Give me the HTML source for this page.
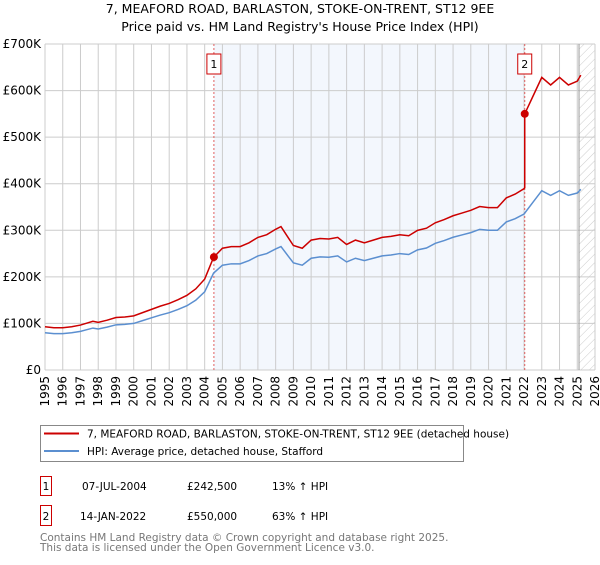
<!DOCTYPE html>
<html><head><meta charset="utf-8"><style>
body{margin:0;background:#fff;font-family:"Liberation Sans","DejaVu Sans",sans-serif;}
svg text{font-family:"DejaVu Sans","Liberation Sans",sans-serif;}
</style></head><body>
<svg id="c" width="600" height="560" xmlns="http://www.w3.org/2000/svg">
<defs><pattern id="hatch" width="6" height="6" patternUnits="userSpaceOnUse" patternTransform="rotate(45)"><line x1="0" y1="0" x2="0" y2="6" stroke="#ccc" stroke-width="1"/></pattern></defs>
<text x="300" y="13" text-anchor="middle" font-size="12.5">7, MEAFORD ROAD, BARLASTON, STOKE-ON-TRENT, ST12 9EE</text>
<text x="300" y="31" text-anchor="middle" font-size="12.5">Price paid vs. HM Land Registry's House Price Index (HPI)</text>
<g id="plot"></g>
<rect x="40.5" y="425.5" width="423" height="36" fill="#fff" stroke="#888"/>
<line x1="44" y1="433.5" x2="79" y2="433.5" stroke="#cc0000" stroke-width="2"/>
<text x="87" y="437.5" font-size="10.5">7, MEAFORD ROAD, BARLASTON, STOKE-ON-TRENT, ST12 9EE (detached house)</text>
<line x1="44" y1="451" x2="79" y2="451" stroke="#5b8fd0" stroke-width="2"/>
<text x="87" y="455" font-size="10.5">HPI: Average price, detached house, Stafford</text>
<g font-size="10.5">
<rect x="40.5" y="476.5" width="11" height="19" fill="#fff" stroke="#cc0000"/>
<text x="46" y="490" text-anchor="middle">1</text>
<text x="82" y="490">07-JUL-2004</text><text x="187" y="490">£242,500</text><text x="272" y="490">13% ↑ HPI</text>
<rect x="40.5" y="505.5" width="11" height="20" fill="#fff" stroke="#cc0000"/>
<text x="46" y="520" text-anchor="middle">2</text>
<text x="80" y="520">14-JAN-2022</text><text x="187" y="520">£550,000</text><text x="272" y="520">63% ↑ HPI</text>
</g>
<text x="40" y="541" font-size="10.5" fill="#777">Contains HM Land Registry data © Crown copyright and database right 2025.</text>
<text x="40" y="551" font-size="10.5" fill="#777">This data is licensed under the Open Government Licence v3.0.</text>
</svg>
<script>
const hpiYears=[1995,1995.5,1996,1996.5,1997,1997.3,1997.7,1998,1998.5,1999,1999.5,2000,2000.5,2001,2001.5,2002,2002.5,2003,2003.5,2004,2004.5,2005,2005.5,2006,2006.5,2007,2007.5,2008,2008.3,2008.7,2009,2009.5,2010,2010.5,2011,2011.5,2012,2012.5,2013,2013.5,2014,2014.5,2015,2015.5,2016,2016.5,2017,2017.5,2018,2018.5,2019,2019.5,2020,2020.5,2021,2021.5,2022,2022.5,2023,2023.5,2024,2024.5,2025,2025.2];
const hpiValues=[80,78,78,80,83,86,90,88,92,97,98,100,106,112,118,123,130,138,150,168,208,225,228,228,235,245,250,260,265,245,230,225,240,243,242,245,232,240,235,240,245,247,250,248,258,262,272,278,285,290,295,302,300,300,318,325,335,360,385,375,385,375,380,388];
const saleYears=[2004.52,2022.04];
const salePrices=[242.5,550];
const yTicks=[0,100,200,300,400,500,600,700];
const yTickLabels=["£0","£100K","£200K","£300K","£400K","£500K","£600K","£700K"];
const xTicks=[1995,1996,1997,1998,1999,2000,2001,2002,2003,2004,2005,2006,2007,2008,2009,2010,2011,2012,2013,2014,2015,2016,2017,2018,2019,2020,2021,2022,2023,2024,2025,2026];

const X0=45,X1=595,Y0=370,Y1=44;
const x=v=>X0+(v-1995)/31*(X1-X0);
const y=v=>Y0-v/700*(Y0-Y1);
const NS="http://www.w3.org/2000/svg";
const g=document.getElementById('plot');
function mk(t,a,p){const e=document.createElementNS(NS,t);for(const k in a)e.setAttribute(k,a[k]);(p||g).appendChild(e);return e;}
function hpiAt(t){for(let i=0;i<hpiYears.length-1;i++){if(t<=hpiYears[i+1]){const f=(t-hpiYears[i])/(hpiYears[i+1]-hpiYears[i]);return hpiValues[i]+f*(hpiValues[i+1]-hpiValues[i]);}}return hpiValues[hpiValues.length-1];}

let e=mk('rect',{x:x(saleYears[0]),y:Y1,width:x(saleYears[1])-x(saleYears[0]),height:Y0-Y1,fill:'#eef3fc',opacity:0.7});


e=mk('rect',{x:x(2025.1),y:Y1,width:X1-x(2025.1),height:Y0-Y1,fill:'url(#hatch)'});


xTicks.forEach(t=>{
 const l=mk('line',{x1:x(t),x2:x(t),y1:Y1,y2:Y0,stroke:'#ccc','stroke-width':1});
 
 
 const tx=mk('text',{x:0,y:0,'font-size':12,'text-anchor':'end',transform:`translate(${x(t)+4},${Y0+6}) rotate(-90)`});
 tx.textContent=t;
 
 
});
yTicks.forEach((t,i)=>{
 const l=mk('line',{x1:X0,x2:X1,y1:y(t),y2:y(t),stroke:'#ccc','stroke-width':1});
 
 
 const tx=mk('text',{x:41,y:y(t)+4,'font-size':12,'text-anchor':'end'});
 tx.textContent=yTickLabels[i];
 
 
});
e=mk('line',{x1:x(2025.1),x2:x(2025.1),y1:Y1,y2:Y0,stroke:'#999','stroke-width':1});


saleYears.forEach((s,i)=>{
 const l=mk('line',{x1:x(s),x2:x(s),y1:Y1,y2:Y0,stroke:'#e06060','stroke-width':1,'stroke-dasharray':'2,2'});
 
 
 const r=mk('rect',{x:x(s)-7,y:54,width:14,height:20,fill:'#fff',stroke:'#cc0000'});
 
 
 const tx=mk('text',{x:x(s),y:68,'font-size':11,'text-anchor':'middle'});
 tx.textContent=i+1;
 
 
});
e=mk('polyline',{points:hpiYears.map((t,i)=>x(t)+','+y(hpiValues[i])).join(' '),fill:'none',stroke:'#5b8fd0','stroke-width':1.5});


const pts=[];
const h0=hpiAt(saleYears[0]),h1=hpiAt(saleYears[1]);
hpiYears.forEach((t,i)=>{if(t<saleYears[1])pts.push([t,salePrices[0]*hpiValues[i]/h0]);});
pts.push([saleYears[1],salePrices[0]*h1/h0]);
pts.push([saleYears[1],salePrices[1]]);
hpiYears.forEach((t,i)=>{if(t>saleYears[1])pts.push([t,salePrices[1]*hpiValues[i]/h1]);});
e=mk('polyline',{points:pts.map(p=>x(p[0])+','+y(p[1])).join(' '),fill:'none',stroke:'#cc0000','stroke-width':1.5});


saleYears.forEach((s,i)=>{
 const c=mk('circle',{cx:x(s),cy:y(salePrices[i]),r:4,fill:'#cc0000'});
 
 
});
</script>
</body></html>
